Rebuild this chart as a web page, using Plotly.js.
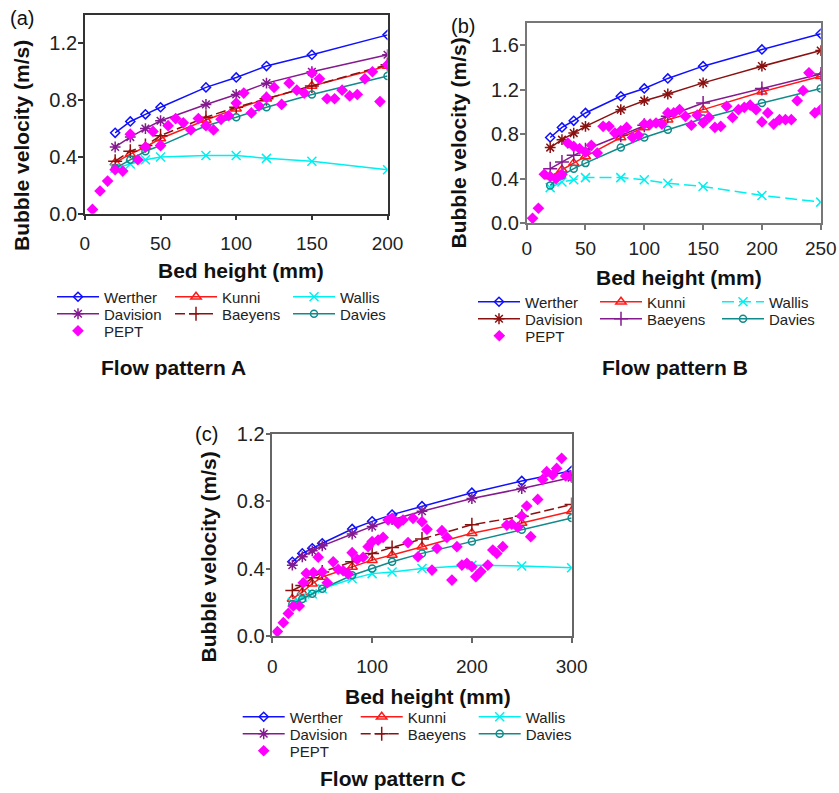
<!DOCTYPE html>
<html><head><meta charset="utf-8">
<script src="https://cdn.plot.ly/plotly-3.0.1.min.js"></script>
<style>html,body{margin:0;padding:0;background:#fff;}#chart{width:839px;height:793px;}</style>
</head><body><div id="chart"></div>
<script>
// ---------- DATA ----------
var names = ['Werther', 'Davision', 'Kunni', 'Baeyens', 'Wallis', 'Davies', 'PEPT'];

// Flow pattern A
var xModelA = [20, 30, 40, 50, 80, 100, 120, 150, 200];
var wertherA  = [0.57, 0.65, 0.70, 0.75, 0.89, 0.96, 1.04, 1.12, 1.26];
var davisionA = [0.47, 0.54, 0.60, 0.655, 0.77, 0.84, 0.92, 1.00, 1.12];
var kunniA    = [0.36, 0.42, 0.47, 0.53, 0.66, 0.74, 0.81, 0.90, 1.04];
var baeyensA  = [0.37, 0.44, 0.48, 0.55, 0.68, 0.75, 0.81, 0.90, 1.05];
var wallisA   = [0.32, 0.35, 0.38, 0.40, 0.41, 0.41, 0.39, 0.37, 0.31];
var daviesA   = [0.32, 0.38, 0.44, 0.48, 0.62, 0.68, 0.75, 0.84, 0.97];
var xPeptA = [5, 10, 15, 20, 25, 30, 35, 40, 45, 50, 55, 60, 65, 70, 75, 80, 85, 90, 95, 100,
              105, 110, 115, 120, 125, 130, 135, 140, 145, 150, 155, 160, 165, 170, 175, 180, 185, 190, 195, 200];
var peptA = [0.03, 0.16, 0.23, 0.31, 0.30, 0.56, 0.38, 0.47, 0.58, 0.48,
             0.62, 0.67, 0.64, 0.59, 0.67, 0.62, 0.59, 0.665, 0.69, 0.78,
             0.85, 0.71, 0.76, 0.82, 0.89, 0.77, 0.92, 0.87, 0.85, 0.99,
             0.95, 0.81, 0.81, 0.87, 0.83, 0.84, 0.95, 1.00, 0.79, 1.05];

// Flow pattern B
var xModelB = [20, 30, 40, 50, 80, 100, 120, 150, 200, 250];
var wertherB  = [0.77, 0.86, 0.92, 0.99, 1.14, 1.21, 1.30, 1.41, 1.56, 1.70];
var davisionB = [0.68, 0.75, 0.81, 0.87, 1.02, 1.10, 1.16, 1.26, 1.41, 1.55];
var kunniB    = [0.42, 0.48, 0.54, 0.60, 0.77, 0.86, 0.93, 1.02, 1.18, 1.32];
var baeyensB  = [0.49, 0.55, 0.61, 0.66, 0.79, 0.88, 0.96, 1.08, 1.21, 1.34];
var wallisB   = [0.32, 0.37, 0.39, 0.41, 0.41, 0.39, 0.36, 0.33, 0.25, 0.19];
var daviesB   = [0.34, 0.43, 0.49, 0.54, 0.68, 0.77, 0.84, 0.94, 1.08, 1.21];
var xPeptB = [5, 10, 15, 20, 25, 30, 35, 40, 45, 50, 55, 60, 65, 70, 75, 80, 85, 90, 95, 100,
              105, 110, 115, 120, 125, 130, 135, 140, 145, 150, 155, 160, 165, 170, 175, 180, 185, 190, 195, 200,
              205, 210, 215, 220, 225, 230, 235, 240, 245, 250];
var peptB = [0.045, 0.135, 0.44, 0.42, 0.40, 0.44, 0.72, 0.69, 0.67, 0.64,
             0.70, 0.63, 0.87, 0.87, 0.81, 0.83, 0.86, 0.77, 0.79, 0.89,
             0.89, 0.90, 0.89, 0.99, 0.99, 1.02, 0.96, 0.88, 0.97, 0.90,
             0.95, 0.86, 0.87, 1.05, 0.95, 1.02, 1.04, 1.06, 1.02, 0.91,
             0.99, 0.89, 0.93, 0.93, 0.93, 1.10, 1.19, 1.35, 0.99, 1.02];

// Flow pattern C
var xModelC = [20, 30, 40, 50, 80, 100, 120, 150, 200, 250, 300];
var wertherC  = [0.44, 0.49, 0.52, 0.55, 0.635, 0.68, 0.72, 0.77, 0.85, 0.92, 0.98];
var davisionC = [0.42, 0.47, 0.505, 0.535, 0.605, 0.65, 0.69, 0.74, 0.815, 0.875, 0.94];
var kunniC    = [0.22, 0.26, 0.31, 0.35, 0.41, 0.45, 0.48, 0.53, 0.61, 0.67, 0.74];
var baeyensC  = [0.27, 0.30, 0.345, 0.38, 0.44, 0.49, 0.525, 0.575, 0.66, 0.71, 0.78];
var wallisC   = [0.20, 0.23, 0.25, 0.28, 0.34, 0.37, 0.38, 0.40, 0.42, 0.415, 0.405];
var daviesC   = [0.19, 0.22, 0.25, 0.28, 0.36, 0.40, 0.44, 0.49, 0.56, 0.63, 0.70];
var xPeptC = [5, 11, 16, 21, 27, 31, 34, 41, 46, 50, 55, 61, 66, 71, 76, 80, 85, 91, 96, 100,
              106, 111, 116, 120, 126, 131, 136, 141, 146, 150, 155, 160, 165, 170, 175, 180, 185, 190, 195, 200,
              204, 209, 216, 221, 225, 231, 235, 240, 246, 250, 255, 259, 266, 271, 275, 281, 285, 290, 294, 299];
var peptC = [0.026, 0.079, 0.134, 0.178, 0.178, 0.316, 0.372, 0.376, 0.467, 0.38,
             0.316, 0.44, 0.395, 0.387, 0.368, 0.494, 0.455, 0.467, 0.53, 0.56,
             0.569, 0.585, 0.688, 0.698, 0.668, 0.688, 0.554, 0.698, 0.47, 0.678,
             0.633, 0.391, 0.52, 0.625, 0.585, 0.332, 0.53, 0.421, 0.431, 0.411,
             0.352, 0.382, 0.421, 0.51, 0.49, 0.53, 0.658, 0.664, 0.645, 0.712,
             0.771, 0.589, 0.81, 0.929, 0.975, 0.955, 0.994, 1.054, 0.949, 0.949];

var panelLabels = ['(a)', '(b)', '(c)'];
var flowLabels = ['Flow pattern A', 'Flow pattern B', 'Flow pattern C'];
var xTitle = 'Bed height (mm)';
var yTitle = 'Bubble velocity (m/s)';

// ---------- STYLE ----------
var W = 839, H = 793;
var FONT = 'Arial, "Liberation Sans", Helvetica, sans-serif';
var BLUE = '#1010ff', RED = '#ff1a1a', CYAN = '#00f0f0', PURPLE = '#85198f',
    DRED = '#8b1010', TEAL = '#108a8a', MAG = '#ff00ff';

function px(x) { return x / W; }
function py(y) { return 1 - y / H; }

function line(name, x, y, ax, legend, color, symbol, msize, dash) {
  return {
    type: 'scatter', mode: 'lines+markers', name: name, x: x, y: y,
    xaxis: 'x' + ax, yaxis: 'y' + ax, legend: legend,
    line: {color: color, width: 1.5, dash: dash || 'solid'},
    marker: {symbol: symbol, size: msize, color: color, line: {color: color, width: 1.5}},
    hoverinfo: 'x+y+name'
  };
}
function pept(x, y, ax, legend) {
  return {
    type: 'scatter', mode: 'markers', name: 'PEPT', x: x, y: y,
    xaxis: 'x' + ax, yaxis: 'y' + ax, legend: legend,
    marker: {symbol: 'diamond', size: 9, color: MAG, line: {width: 0}}
  };
}

var data = [
  // A
  line(names[0], xModelA, wertherA, '', 'legend', BLUE, 'diamond-open', 7),
  line(names[1], xModelA, davisionA, '', 'legend2', PURPLE, 'asterisk-open', 9),
  line(names[2], xModelA, kunniA, '', 'legend', RED, 'triangle-up-open', 9),
  line(names[3], xModelA, baeyensA, '', 'legend2', DRED, 'cross-thin-open', 10, '10px,4px'),
  line(names[4], xModelA, wallisA, '', 'legend', CYAN, 'x-thin-open', 9),
  line(names[5], xModelA, daviesA, '', 'legend2', TEAL, 'circle-open', 7),
  pept(xPeptA, peptA, '', 'legend3'),
  // B
  line(names[0], xModelB, wertherB, '2', 'legend4', BLUE, 'diamond-open', 7),
  line(names[1], xModelB, davisionB, '2', 'legend5', DRED, 'asterisk-open', 9),
  line(names[2], xModelB, kunniB, '2', 'legend4', RED, 'triangle-up-open', 9),
  line(names[3], xModelB, baeyensB, '2', 'legend5', PURPLE, 'cross-thin-open', 10),
  line(names[4], xModelB, wallisB, '2', 'legend4', CYAN, 'x-thin-open', 9, '12px,5px'),
  line(names[5], xModelB, daviesB, '2', 'legend5', TEAL, 'circle-open', 7),
  pept(xPeptB, peptB, '2', 'legend6'),
  // C
  line(names[0], xModelC, wertherC, '3', 'legend7', BLUE, 'diamond-open', 7),
  line(names[1], xModelC, davisionC, '3', 'legend8', PURPLE, 'asterisk-open', 9),
  line(names[2], xModelC, kunniC, '3', 'legend7', RED, 'triangle-up-open', 9),
  line(names[3], xModelC, baeyensC, '3', 'legend8', DRED, 'cross-thin-open', 10, '10px,4px'),
  line(names[4], xModelC, wallisC, '3', 'legend7', CYAN, 'x-thin-open', 9),
  line(names[5], xModelC, daviesC, '3', 'legend8', TEAL, 'circle-open', 7),
  pept(xPeptC, peptC, '3', 'legend9')
];

function baseAxis(range, dtick, anchor, lc) {
  return {range: range, dtick: dtick, tick0: 0, anchor: anchor,
    showline: true, mirror: true, linecolor: lc, linewidth: 1.5,
    ticks: 'outside', ticklen: 5, tickwidth: 1.5, tickcolor: lc,
    showgrid: false, zeroline: false, fixedrange: true};
}
function xAxis(l, r, range, dtick, anchor, lc, standoff) {
  var a = baseAxis(range, dtick, anchor, lc);
  a.domain = [px(l), px(r)];
  a.ticklabelstandoff = standoff;
  a.tickfont = {family: FONT, size: 19, color: '#222'};
  return a;
}
function yAxis(top, bottom, range, dtick, anchor, lc) {
  var a = baseAxis(range, dtick, anchor, lc);
  a.domain = [py(bottom), py(top)];
  a.tickformat = '.1f';
  a.ticklabelstandoff = -3;
  a.tickfont = {family: FONT, size: 20, color: '#222'};
  return a;
}
function legendCfg(x, y, entry) {
  return {orientation: 'h', x: px(x), y: py(y), xanchor: 'left', yanchor: 'middle',
    entrywidth: entry, entrywidthmode: 'pixels', itemwidth: 42, tracegroupgap: 0,
    bgcolor: 'rgba(0,0,0,0)', borderwidth: 0, itemclick: false, itemdoubleclick: false,
    font: {family: FONT, size: 15, color: '#222'}};
}
function ann(text, x, y, size, bold, angle) {
  return {text: text, xref: 'paper', yref: 'paper', x: px(x), y: py(y),
    xanchor: 'center', yanchor: 'middle', showarrow: false, textangle: angle || 0,
    font: {family: FONT, size: size, color: '#111', weight: bold ? 700 : 400}};
}

var layout = {
  width: W, height: H, margin: {l: 0, r: 0, t: 0, b: 0},
  paper_bgcolor: '#fff', plot_bgcolor: '#fff', showlegend: true,
  xaxis:  xAxis(85, 388, [0, 200], 50, 'y', '#333', 7),
  yaxis:  yAxis(15, 213.7, [0, 1.4], 0.4, 'x', '#333'),
  xaxis2: xAxis(527.3, 821.7, [0, 250], 50, 'y2', '#777', 2),
  yaxis2: yAxis(22.7, 223.3, [0, 1.8], 0.4, 'x2', '#777'),
  xaxis3: xAxis(272.7, 572.3, [0, 300], 100, 'y3', '#666', 7),
  yaxis3: yAxis(433.7, 636, [0, 1.2], 0.4, 'x3', '#666'),
  legend:  legendCfg(52, 297, 61),
  legend2: legendCfg(52, 314, 61),
  legend3: legendCfg(52, 331, 61),
  legend4: legendCfg(473.3, 302, 65),
  legend5: legendCfg(473.3, 319, 65),
  legend6: legendCfg(473.3, 336, 65),
  legend7: legendCfg(237.7, 717, 61),
  legend8: legendCfg(237.7, 734, 61),
  legend9: legendCfg(237.7, 751, 61),
  annotations: [
    ann(panelLabels[0], 22, 18, 20, false),
    ann(panelLabels[1], 464, 26, 20, false),
    ann(panelLabels[2], 206.5, 434, 20, false),
    ann(yTitle, 21.5, 145.5, 21, true, -90),
    ann(yTitle, 460, 143, 21, true, -90),
    ann(yTitle, 209, 556.7, 21, true, -90),
    ann(xTitle, 241, 270.5, 21, true),
    ann(xTitle, 680, 277.5, 21, true),
    ann(xTitle, 428.5, 696.5, 21, true),
    ann(flowLabels[0], 173.5, 367.5, 21, true),
    ann(flowLabels[1], 676, 367.5, 21, true),
    ann(flowLabels[2], 393.5, 778.5, 21, true)
  ]
};

Plotly.newPlot('chart', data, layout, {displayModeBar: false});
</script></body></html>
